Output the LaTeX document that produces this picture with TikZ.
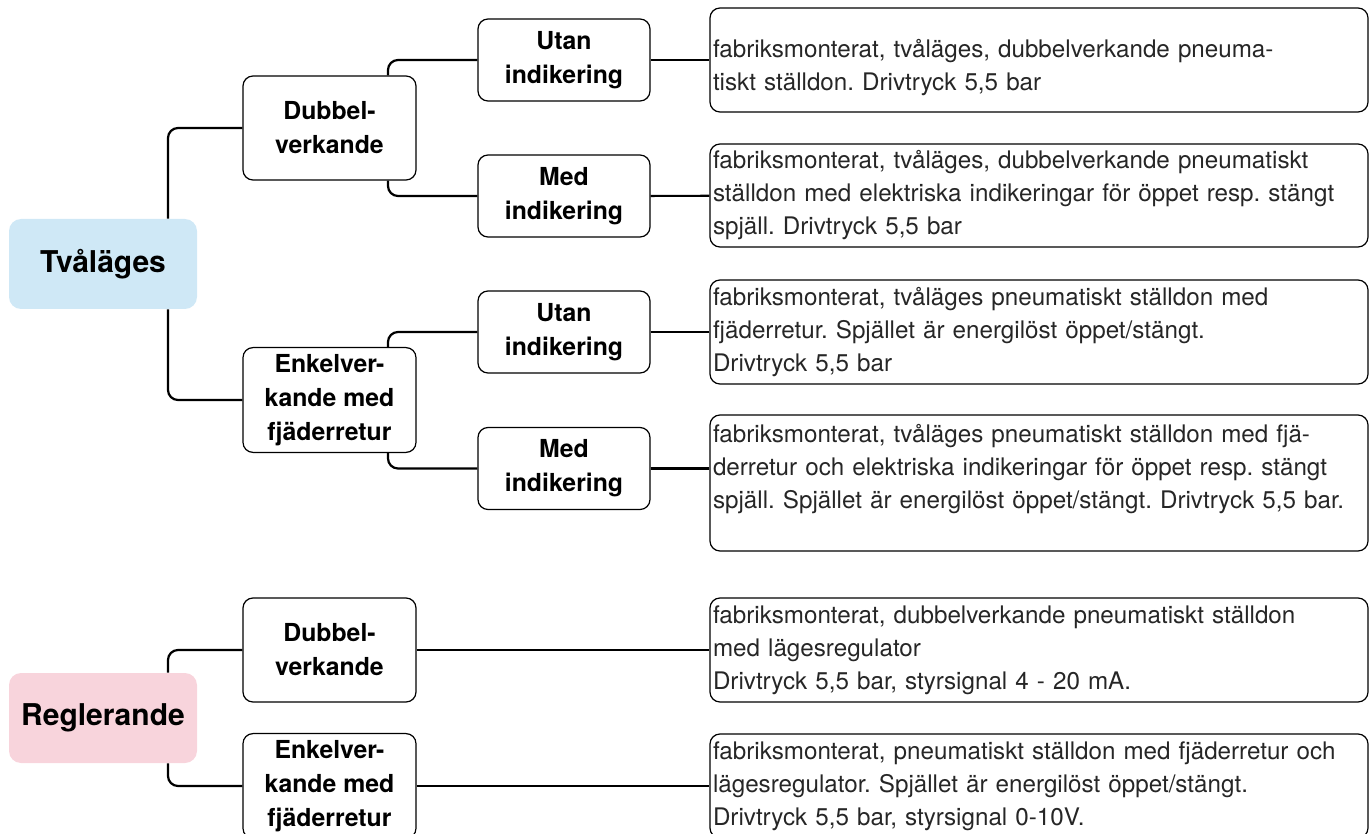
\documentclass[tikz,border=0pt]{standalone}
\usepackage{fontspec}
\setmainfont{TeX Gyre Heros}
\definecolor{tvablue}{HTML}{CFE8F6}
\definecolor{regpink}{HTML}{F8D4DC}
\frenchspacing

\begin{document}
\begin{tikzpicture}[x=0.5pt,y=-0.5pt,
    topbox/.style={rounded corners=6pt, minimum width=94pt, minimum height=45pt, font=\bfseries\fontsize{15}{19}\selectfont},
    groupbox/.style={draw, line width=0.6pt, rounded corners=5pt, minimum width=86.5pt, minimum height=52pt, align=center, font=\bfseries\fontsize{12.4}{17}\selectfont},
    indbox/.style={groupbox, minimum width=86pt, minimum height=41pt},
    descbox/.style={draw, line width=0.6pt, rounded corners=5pt, text width=326pt, inner xsep=1.5pt, inner ysep=0pt, align=left, text=black!85, font=\fontsize{12.1}{16.5}\selectfont},
    conn/.style={line width=1.1pt, rounded corners=5pt}]
    \useasboundingbox (0,0) rectangle (1371,834);

    % top level
    \node[topbox, fill=tvablue] (tva) at (103,264) {Tvåläges};
    \node[topbox, fill=regpink] (reg) at (103,718) {Reglerande};

    % second level
    \node[groupbox] (dub1) at (329.5,128) {Dubbel-\\verkande};
    \node[groupbox] (enk1) at (329.5,400) {Enkelver-\\kande med\\fjäderretur};
    \node[groupbox] (dubR) at (329.5,650) {Dubbel-\\verkande};
    \node[groupbox] (enkR) at (329.5,786) {Enkelver-\\kande med\\fjäderretur};

    % indikering
    \node[indbox] (utan1) at (564,60) {Utan\\indikering};
    \node[indbox] (med1) at (564,196) {Med\\indikering};
    \node[indbox] (utan2) at (564,332) {Utan\\indikering};
    \node[indbox] (med2) at (564,468.5) {Med\\indikering};

    % descriptions
    \node[descbox, minimum height=52pt] (desc1) at (1039,60) {~\\fabriksmonterat, tvåläges, dubbelverkande pneuma-\\tiskt ställdon. Drivtryck 5,5 bar};
    \node[descbox, minimum height=51.5pt] (desc2) at (1039,195.5) {fabriksmonterat, tvåläges, dubbelverkande pneumatiskt\\ställdon med elektriska indikeringar för öppet resp. stängt\\spjäll. Drivtryck 5,5 bar};
    \node[descbox, minimum height=52pt] (desc3) at (1039,332) {fabriksmonterat, tvåläges pneumatiskt ställdon med\\fjäderretur. Spjället är energilöst öppet/stängt.\\Drivtryck 5,5 bar};
    \node[descbox, minimum height=68pt] (desc4) at (1039,483) {fabriksmonterat, tvåläges pneumatiskt ställdon med fjä-\\derretur och elektriska indikeringar för öppet resp. stängt\\spjäll. Spjället är energilöst öppet/stängt. Drivtryck 5,5 bar.\\~};
    \node[descbox, minimum height=52pt] (desc5) at (1039,650) {fabriksmonterat, dubbelverkande pneumatiskt ställdon\\med lägesregulator\\Drivtryck 5,5 bar, styrsignal 4 - 20 mA.};
    \node[descbox, minimum height=52pt] (desc6) at (1039,786) {fabriksmonterat, pneumatiskt ställdon med fjäderretur och\\lägesregulator. Spjället är energilöst öppet/stängt.\\Drivtryck 5,5 bar, styrsignal 0-10V.};

    % connectors
    \draw[conn] (dub1.west) -| ([xshift=32.5pt]tva.north);
    \draw[conn] (enk1.west) -| ([xshift=32.5pt]tva.south);
    \draw[conn] (utan1.west) -| ([xshift=29.25pt]dub1.north);
    \draw[conn] (med1.west) -| ([xshift=29.25pt]dub1.south);
    \draw[conn] (utan2.west) -| ([xshift=29.25pt]enk1.north);
    \draw[conn] (med2.west) -| ([xshift=29.25pt]enk1.south);
    \draw[conn] (dubR.west) -| ([xshift=32.5pt]reg.north);
    \draw[conn] (enkR.west) -| ([xshift=32.5pt]reg.south);
    \draw[conn] (utan1) -- (desc1);
    \draw[conn] (med1) -- (desc2);
    \draw[conn] (utan2) -- (desc3);
    \draw[conn] (med2.east) -- (med2.east -| desc4.west);
    \draw[conn] (dubR) -- (desc5);
    \draw[conn] (enkR) -- (desc6);
\end{tikzpicture}
\end{document}
